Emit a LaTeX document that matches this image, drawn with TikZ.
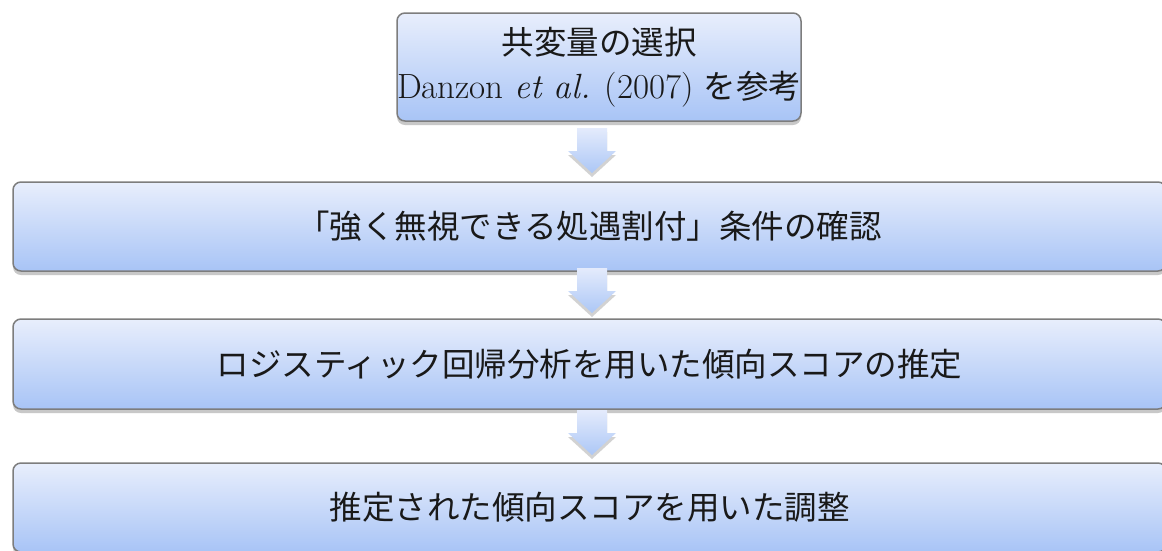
\documentclass[tikz,border=0pt]{standalone}
\usepackage{fontspec}
\newfontfamily\cjk{Noto Sans CJK JP}
\usetikzlibrary{shadows}
\definecolor{boxtop}{RGB}{232,238,252}
\definecolor{boxbot}{RGB}{168,196,246}
\definecolor{boxline}{RGB}{125,125,125}
\definecolor{arrtop}{RGB}{228,235,252}
\definecolor{arrbot}{RGB}{172,199,246}
\newcommand{\latinbig}{\fontsize{35}{44}\selectfont}
\tikzset{
  flowbox/.style={rectangle, rounded corners=8pt, draw=boxline, line width=1.5pt,
    top color=boxtop, bottom color=boxbot,
    drop shadow={shadow xshift=0pt, shadow yshift=-4pt, opacity=0.3, fill=black!70},
    inner sep=0pt, align=center, font=\fontsize{32.5}{44}\selectfont, text=black!90},
  arrowfill/.style={top color=arrtop, bottom color=arrbot, draw=none,
    drop shadow={shadow xshift=0pt, shadow yshift=-4pt, opacity=0.25, fill=black!70}},
  pics/blockarrow/.style={code={
    \path[arrowfill] (-15,0) -- (15,0) -- (15,23) -- (24,23) -- (0,45) -- (-24,23) -- (-15,23) -- cycle;}}
}
\begin{document}
\begin{tikzpicture}[x=1pt,y=-1pt]
\clip (0,0) rectangle (1162,550);
\fill[white] (0,0) rectangle (1162,550);
\node[flowbox, minimum width=398pt, minimum height=108pt] (b1) at (599,67)
  {{\cjk 共変量の選択}\\{\latinbig Danzon \textit{et al.} (2007)} {\cjk を参考}};
\node[flowbox, minimum width=1153pt, minimum height=89pt] (b2) at (589.5,226.5)
  {\cjk 「強く無視できる処遇割付」条件の確認};
\node[flowbox, minimum width=1153pt, minimum height=90pt] (b3) at (589.5,364)
  {\cjk ロジスティック回帰分析を用いた傾向スコアの推定};
\node[flowbox, minimum width=1153pt, minimum height=89pt] (b4) at (589.5,507.5)
  {\cjk 推定された傾向スコアを用いた調整};
\pic at (592,128) {blockarrow};
\pic at (592,268) {blockarrow};
\pic at (592,410) {blockarrow};
\end{tikzpicture}
\end{document}
